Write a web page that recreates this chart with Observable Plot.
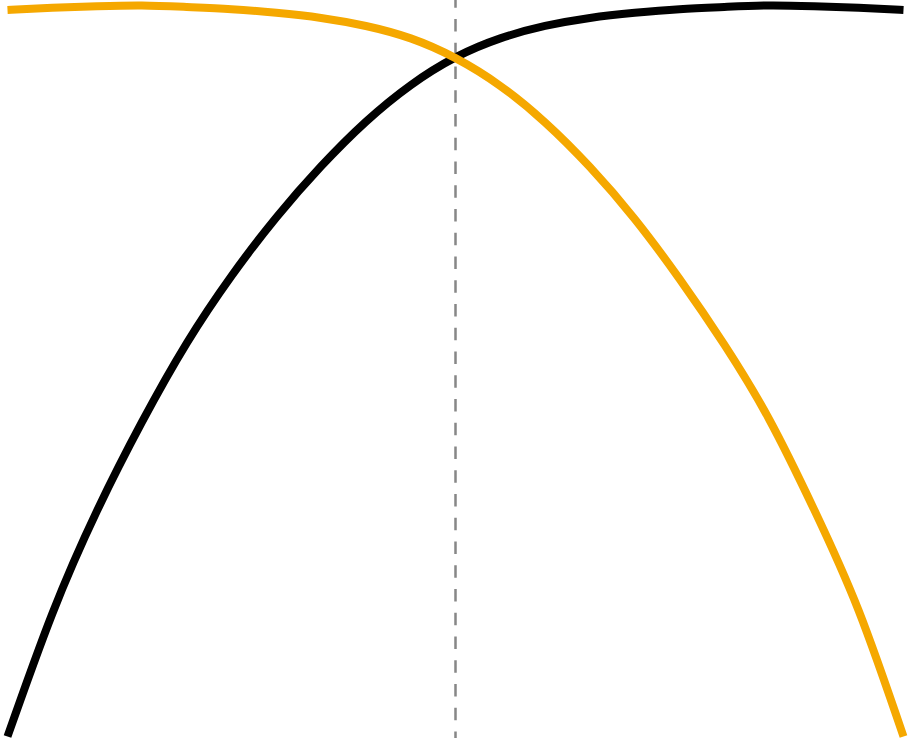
<!DOCTYPE html>
<html>
<head>
<meta charset="utf-8">
<script src="https://cdn.jsdelivr.net/npm/d3@7"></script>
<script src="https://cdn.jsdelivr.net/npm/@observablehq/plot@0.6"></script>
<style>
  html, body { margin: 0; padding: 0; background: #fff; }
  #chart svg { display: block; }
</style>
</head>
<body>
<div id="chart"></div>
<script>
// Shared x positions (arbitrary units, 0..100)
const xs = [0, 5, 10, 15, 20, 25, 30, 35, 40, 45, 50, 55, 60, 65, 70, 75, 80, 85, 90, 95, 100];
// Black curve (rising, saturating)
const blackY = [0, 16.8, 30.9, 43.0, 53.8, 63.0, 71.0, 78.0, 84.1, 89.1, 92.9, 95.5, 97.2, 98.3, 99.0, 99.5, 99.8, 100, 99.9, 99.7, 99.4];
// Orange curve (flat, then falling)
const orangeY = [99.4, 99.7, 99.9, 100, 99.8, 99.5, 99.0, 98.3, 97.2, 95.5, 92.8, 89.0, 84.0, 77.9, 70.8, 62.6, 53.6, 43.4, 31.1, 17.2, 0];
// Vertical reference position
const cutX = [50];

const black = xs.map((x, i) => ({x, y: blackY[i]}));
const orange = xs.map((x, i) => ({x, y: orangeY[i]}));

const chart = Plot.plot({
  width: 909,
  height: 742,
  marginLeft: 7,
  marginRight: 6,
  marginTop: 5,
  marginBottom: 6,
  x: {domain: [0, 100], axis: null},
  y: {domain: [0, 100], axis: null},
  marks: [
    Plot.ruleX(cutX, {stroke: "#878787", strokeWidth: 2.5, strokeDasharray: "12.5,11.25", strokeDashoffset: 4.75, insetTop: -5, insetBottom: -2}),
    Plot.line(black, {x: "x", y: "y", stroke: "#000000", strokeWidth: 8, curve: "natural", strokeLinecap: "butt"}),
    Plot.line(orange, {x: "x", y: "y", stroke: "#f5a800", strokeWidth: 8, curve: "natural", strokeLinecap: "butt"})
  ]
});
document.getElementById("chart").append(chart);
</script>
</body>
</html>
